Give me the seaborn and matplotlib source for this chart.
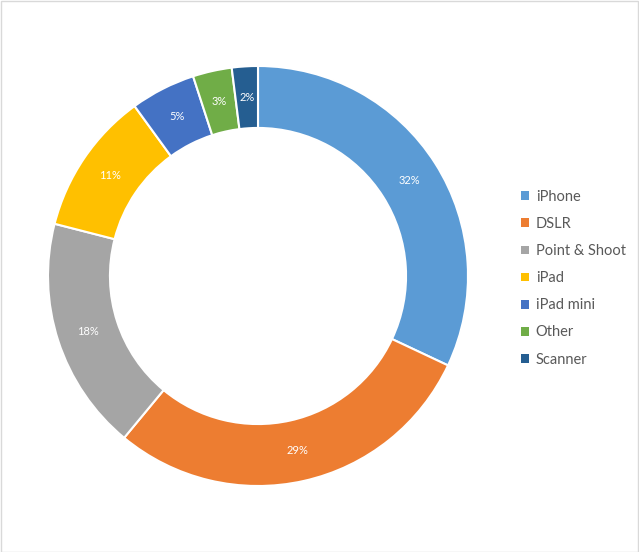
import matplotlib
matplotlib.use("Agg")
import matplotlib.pyplot as plt
import seaborn as sns

# ── Data ──────────────────────────────────────────────────────────────────────
devices = ['iPhone', 'DSLR', 'Point & Shoot', 'iPad', 'iPad mini', 'Other', 'Scanner']
shares = [32, 29, 18, 11, 5, 3, 2]
colours = ['#5B9BD5', '#ED7D31', '#A5A5A5', '#FFC000', '#4472C4', '#70AD47', '#255E91']

sns.set_theme(style="white")
plt.rcParams['font.family'] = ['Lato', 'DejaVu Sans']

W, H = 639, 552
fig = plt.figure(figsize=(W / 100, H / 100), dpi=100)

# donut axes: center at (258, 276) px, outer radius 210 px
cx, cy, r = 258, 276, 210
ax = fig.add_axes([(cx - r) / W, (H - cy - r) / H, 2 * r / W, 2 * r / H])

palette = sns.color_palette(colours)
wedges, texts, autotexts = ax.pie(
    shares, colors=palette, startangle=90, counterclock=False,
    radius=1.0, autopct='%1.0f%%', pctdistance=0.853,
    wedgeprops=dict(width=0.295, edgecolor='white', linewidth=1.5),
    textprops=dict(color='white', fontsize=8),
)
ax.set_xlim(-1, 1)
ax.set_ylim(-1, 1)
ax.set_aspect('equal')
ax.axis('off')

leg = fig.legend(
    wedges, devices, loc='center left', bbox_to_anchor=(508 / W, 0.496),
    frameon=False, fontsize=10.5, handlelength=0.55, handleheight=0.55,
    handletextpad=0.45, labelspacing=0.9, labelcolor='#595959',
)
for h in leg.legend_handles:
    h.set_edgecolor('none')

# thin light frame around the whole chart area
fig.patches.append(plt.Rectangle((0.5 / W, 0.5 / H), 1 - 1.5 / W, 1 - 1.5 / H,
                                 transform=fig.transFigure, fill=False,
                                 edgecolor='#D9D9D9', linewidth=1))

fig.savefig('out.png', dpi=100)
